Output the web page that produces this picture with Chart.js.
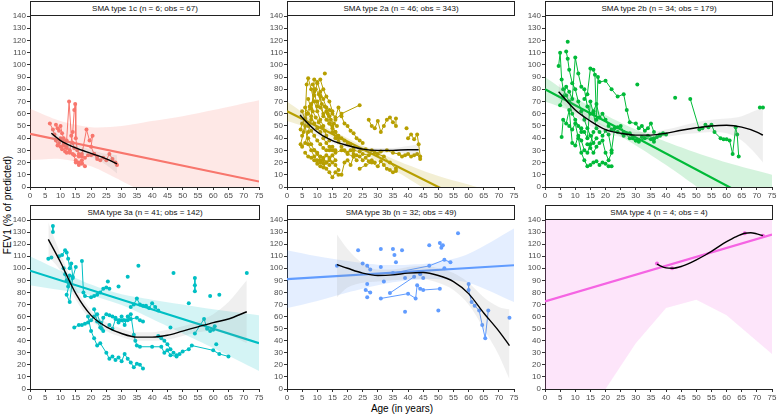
<!DOCTYPE html>
<html>
<head>
<meta charset="utf-8">
<script src="https://cdn.jsdelivr.net/npm/chart.js@4.4.0/dist/chart.umd.min.js"></script>
<style>
  body { margin: 0; background: #fff; width: 778px; height: 414px; position: relative; overflow: hidden;
         font-family: "Liberation Sans", Arial, Helvetica, sans-serif; }
  canvas { position: absolute; }
  .strip { position: absolute; box-sizing: border-box; border: 1px solid #222; background: #fff;
           font-size: 8px; line-height: 13px; text-align: center; color: #111; }
  .axtitle { position: absolute; font-size: 10px; color: #000; white-space: nowrap; }
</style>
</head>
<body>
<div class="axtitle" style="left:402px; top:408px; transform:translate(-50%,-50%);">Age (in years)</div>
<div class="axtitle" style="left:7px; top:205px; transform:translate(-50%,-50%) rotate(-90deg);">FEV1 (% of predicted)</div>
<script>
// ---- data ----
const xMax = 75, xStep = 5;
const yMax = 140, yStep = 10;

// SMA type 1c
const t1c_patients = [
  [[6.5,52],[7.5,47],[8,43],[8.5,38],[9,34],[9.5,36],[10,33],[10.5,31],[11,35],[11.5,29],[12,28]],
  [[8.5,51],[9,48],[9.5,46],[10,50],[10.5,44],[11,40],[11.5,36],[12,38],[12.8,70],[13.5,42],[14,36],[14.5,32]],
  [[10,40],[11,34],[12,33],[13,30],[14,45],[14.5,63],[14.8,68],[15,40],[15.5,30],[16,27],[17,25]],
  [[12,32],[13,29],[14,27],[15,22],[16,20],[17,22],[18,17],[17,19],[16,18],[15,20]],
  [[13,28],[14.5,26],[16,25],[17,27],[18.5,47],[19.5,38],[20.5,42],[20,33],[21,27],[22,25]],
  [[18,24],[19,26],[20,26],[21,27],[22,23],[23,22],[24,24],[25,22],[26,27],[27,23],[28,20],[28.5,18]]
];
const t1c_fit = [[0,43.5],[75,4.5]];
const t1c_fitHi = [[0,64],[10,54],[20,49],[30,50],[40,54],[50,58],[60,63],[75,71]];
const t1c_fitLo = [[0,22],[10,23],[20,17],[30,5],[40,-8],[50,-23],[60,-38],[75,-62]];
const t1c_curve = [[7,44],[10,38],[15,32],[20,27.5],[25,23],[28.5,19]];
const t1c_curveHi = [[7,49],[10,41],[15,35],[20,30.5],[25,27],[28.5,26]];
const t1c_curveLo = [[7,39],[10,35],[15,29],[20,24.5],[25,18],[28.5,11]];

// SMA type 2a
const t2a_patients = [
  [[4.5,47],[5,52],[6,56],[6.5,84],[7,89],[8,80],[9,70],[10,62],[11,55],[12,50],[13,42],[14,38]],
  [[5,33],[6,36],[7,45],[8,55],[9,88],[10,86],[11,78],[12,72],[13,65],[14,58],[15,50],[16,45],[17,40]],
  [[6,65],[7,60],[8,68],[9,75],[10,85],[11,88],[12,80],[13,74],[14,70],[15,62],[16,55],[18,60],[24,67]],
  [[7,40],[8,35],[9,30],[10,28],[11,25],[12,22],[13,26],[14,24],[15,20],[16,18],[17,14]],
  [[8,58],[9,52],[10,48],[11,45],[12,40],[13,36],[14,33],[15,30],[16,28],[18,30],[20,27],[22,25]],
  [[9,30],[10,27],[11,22],[12,19],[13,15],[14,12],[15,8],[16,12],[17,10]],
  [[5,62],[6,55],[7,50],[8,46],[9,42],[10,38],[11,35],[12,32],[13,30],[14,30],[15,33],[16,30]],
  [[10,70],[11,65],[12,60],[13,55],[14,52],[15,48],[16,45],[17,42],[18,40],[19,38],[20,36],[21,35],[22,32]],
  [[12.5,93]],
  [[14,63],[15,60],[16,57],[17,65],[18,58],[19,52],[20,50],[21,46],[22,44],[23,40],[24,38],[25,36]],
  [[15,45],[16,40],[17,37],[18,33],[19,30],[20,28],[21,30],[22,27],[23,26],[24,25],[25,22],[26,24],[27,21],[28,22],[29,20]],
  [[24,15],[26,18],[28,20],[30,17],[31,21],[32,18],[33,15],[34,14],[35,12],[36,13]],
  [[27,55],[28,50],[29,48],[30,54],[31,45],[32,50],[33,55],[34,57],[35,53],[36,50],[36,56]],
  [[22,30],[24,29],[26,31],[28,30],[30,27],[32,25],[34,20],[36,15]],
  [[25,27],[27,26],[29,28],[31,29],[33,30],[35,28],[37,27],[38,25],[39,26],[40,27],[41,25],[42,26],[43,27],[44,23]],
  [[39.5,48]],
  [[40,40],[41,43],[42,39],[43,43],[43.5,35],[44,25]],
  [[18,10],[19,20],[20,22],[21,18],[22,25],[23,22]],
  [[7,72],[8,64],[9,78],[10,66],[11,74],[12,58],[13,62],[14,52]],
  [[5,42],[6,50],[7,35],[8,30],[9,25],[10,22],[11,20],[12,24],[13,20],[14,18]],
  [[4.5,35],[5.5,45],[6.5,60],[7.5,66],[8.5,62],[9.5,57],[10.5,53],[11.5,49],[12.5,46]],
  [[6,28],[7,25],[8,24],[9,22],[10,19],[11,17],[12,16],[13,20],[14,22],[15,26],[16,22]],
  [[8.5,84],[9.5,80],[10.5,76],[11.5,68],[12.5,66],[13.5,60],[14.5,55],[15.5,52],[16.5,50]]
];
const t2a_fit = [[0,62],[75,-31]];
const t2a_fitHi = [[0,70],[10,53],[20,40],[30,28.5],[40,18],[50,9],[60,2],[75,-9]];
const t2a_fitLo = [[0,54],[10,46],[20,34.5],[30,21],[40,7],[50,-9],[60,-26],[75,-51]];
const t2a_curve = [[4.3,59],[5,57],[10,45],[15,38],[20,34],[25,31],[30,30],[35,30],[40,30.5],[43.5,30.5]];
const t2a_curveHi = [[4.3,65],[5,62],[10,48],[15,40],[20,36],[25,33],[30,32],[35,32],[40,33.5],[43.5,35]];
const t2a_curveLo = [[4.3,53],[5,52],[10,42],[15,36],[20,32],[25,29],[30,28],[35,28],[40,27.5],[43.5,26]];

// SMA type 2b
const t2b_patients = [
  [[4.5,99],[5,110],[5.5,88],[6,80],[7,75],[8,70],[9,60],[10,55],[11,50],[12,45]],
  [[7,111],[7.5,105],[8,96],[9,85],[10,80],[11,70],[12,62],[13,55],[14,48],[15,42],[16,36],[17,40]],
  [[7.5,119]],
  [[5,67],[6,74],[7,82],[8,78],[9,72],[10,106],[11,93],[12,82],[13,80],[14,66],[15,60]],
  [[5.5,41],[6,55],[7,52],[8,63],[9,36],[10,34],[11,42],[12,38],[13,30],[14,28],[15,35],[16,45]],
  [[8,50],[9,47],[10,52],[11,40],[12,28],[13,22],[14,17],[15,18],[16,20],[17,21],[18,18],[19,20],[20,19],[21,17],[22,17]],
  [[13,72],[14,76],[15,97],[16,96],[16.5,92],[17,55],[17.5,90],[18,86],[20,87],[22,80],[24,74],[26,76],[27,63],[28,53],[30,52],[31,48],[32,50],[33,46],[34,48],[35,52],[36,45]],
  [[12,48],[13,45],[14,40],[15,70],[16,60],[17,48],[18,45],[19,42],[20,46],[21,43],[22,30],[23,48],[24,49],[25,50],[26,45],[28,40],[30,38],[32,41],[34,42],[36,40],[38,42],[40,43]],
  [[14,35],[15,32],[16,28],[17,33],[18,36],[19,38],[20,28],[21,22],[22,28]],
  [[30.5,84]],
  [[28,44],[29,40],[30,38],[31,37],[33,40],[35,39],[36,37],[37,41],[38,43],[39,44]],
  [[43,73]],
  [[48,72],[51,47],[52,48],[53,51],[54,49],[55,51],[56,45],[58,40],[59,39],[60,39],[61,38],[62,27],[63,49],[63.5,43],[64,25]],
  [[71,65],[72,65]],
  [[16,62],[17,68],[18,57],[19,60],[20,55],[21,50],[22,47],[24,45],[26,42],[27,44]]
];
const t2b_fit = [[0,80],[75,-18.6]];
const t2b_fitHi = [[0,90],[10,73],[20,59],[30,47],[40,37],[50,28],[60,20],[75,10]];
const t2b_fitLo = [[0,70],[10,61],[20,48.5],[30,34],[40,18],[50,0.5],[60,-18],[75,-47]];
const t2b_curve = [[4.5,78],[10,63],[15,54],[20,47],[25,44],[30,42.5],[35,42.5],[40,44],[45,46.5],[50,48.5],[55,50],[60,50.5],[65,49],[70,45],[72,42.5]];
const t2b_curveHi = [[4.5,85],[10,68],[15,58],[20,50],[25,47],[30,45],[35,45],[40,47],[45,50],[50,53],[55,55],[60,56],[65,58],[70,63],[72,65]];
const t2b_curveLo = [[4.5,72],[10,58],[15,50],[20,44],[25,41],[30,40],[35,40],[40,41],[45,43],[50,44],[55,45],[60,44],[65,38],[70,26],[72,20]];

// SMA type 3a
const t3a_patients = [
  [[7.5,135],[7.5,130]],
  [[6,108],[7,109]],
  [[9.5,110],[10.5,111],[11.5,115],[12,113],[12.5,108],[13,100],[13.5,104],[14,93],[13,88],[12,78],[13,72],[14,92],[15,101]],
  [[11,100],[11.5,95],[12,90],[12.5,85],[13,94]],
  [[17,106],[17.5,80],[18,77],[20,76],[21,77],[22,78],[23,80],[24,83],[25,84],[26,83]],
  [[25.5,89]], [[29,85]], [[32,93]], [[35.5,102]], [[47,96]], [[52,71]], [[71,96]], [[59,77]], [[62,78]], [[61,37]], [[46,51]],
  [[54,92],[54,86],[54,81]],
  [[33,68],[34,70],[35,75],[36,70],[37,69],[38,69],[39,67],[40,71],[41,68],[42,65]],
  [[14.5,51],[16,53],[17,53],[18,54],[19,55],[20,57],[21,60],[22,62],[23,55],[23.5,50],[24,59],[25,62],[26,61],[27,60],[28,59],[29,57],[30,60],[31,57],[32,57],[33,62],[34,45],[34.5,40],[35,36],[36,35],[40,35],[43,35],[44,30],[45,32],[46,28],[48,27],[50,31],[52,33],[53,36],[60,32],[62,29],[65,27]],
  [[19,60],[20,48],[21,42],[22,36],[23,38],[25,30],[26,25],[27,27],[28,24],[29,26],[30,23],[31,29],[32,25],[33,22],[34,18],[35,21],[36,20],[37,17]],
  [[26,53],[27,50],[28,58],[29,55],[30,57],[31,53],[32,60],[33,58],[35,59],[36,57],[37,56]],
  [[42,44],[43,42],[44,40],[45,37],[46,33],[47,30],[48,28],[49,29]],
  [[54,46],[57,58],[58,50],[59,48],[60,49],[60.5,52]],
  [[21,66],[22,56],[23,51],[24,48]]
];
const t3a_fit = [[0,98],[75,38]];
const t3a_fitHi = [[0,110],[10,98],[20,86.5],[30,78.5],[40,74],[50,70],[60,66],[75,61]];
const t3a_fitLo = [[0,86],[10,82],[20,77.5],[30,69.5],[40,58],[50,46],[60,34],[75,15]];
const t3a_curve = [[6,124],[10,105],[15,79],[20,61],[25,51.5],[30,46],[35,43],[40,43],[45,44.5],[50,48],[55,51.5],[60,55],[65,58],[71,64]];
const t3a_curveHi = [[6,138],[10,112],[15,84],[20,65],[25,55],[30,50],[35,47],[40,47],[45,49],[50,52],[55,56],[60,62],[65,72],[71,90]];
const t3a_curveLo = [[6,110],[10,98],[15,74],[20,57],[25,48],[30,43],[35,40],[40,40],[45,41],[50,44],[55,47],[60,48],[65,45],[71,38]];

// SMA type 3b
const t3b_patients = [
  [[16.5,102]], [[23.5,115]], [[25,104]], [[26.5,102],[27.5,99]], [[26.5,87]], [[26,82],[27.5,80]], [[26.5,76]],
  [[31,116]], [[31,101]], [[32,89]], [[35,116]], [[35.5,111]], [[36,105]], [[38,115]], [[39,92]], [[39,64]],
  [[47,119]], [[50,65]], [[56.5,129]], [[73.5,59]], [[45,92]], [[44,95]],
  [[31,75],[40,79],[42.5,75],[43,86],[44,83],[45,82],[50.5,83]],
  [[34,79.5],[42,93]],
  [[35,96],[47,102],[52,107],[54,105]],
  [[52,100]],
  [[50.5,121],[51,117],[51.5,119]],
  [[60,87],[60,82],[61,72],[62,69],[63.5,65],[64.5,53],[65.5,42],[66.5,65]]
];
const t3b_fit = [[0,91],[75,102.5]];
const t3b_fitHi = [[0,115],[10,110],[20,106],[30,103],[40,103],[50,105],[60,112],[75,133]];
const t3b_fitLo = [[0,67],[10,73],[20,80],[30,86],[40,90],[50,91],[60,88],[75,72]];
const t3b_curve = [[16.5,103],[20,100],[25,96],[30,94],[35,94.5],[40,96],[45,96.5],[50,94],[55,89],[60,79],[65,63],[70,48],[73.5,36]];
const t3b_curveHi = [[16.5,128],[20,116],[25,104],[30,99],[35,99],[40,101],[45,102],[50,100],[55,96],[60,88],[65,76],[70,68],[73.5,66]];
const t3b_curveLo = [[16.5,76],[20,84],[25,88],[30,89],[35,90],[40,91],[45,91],[50,88],[55,82],[60,70],[65,50],[70,28],[73.5,8]];

// SMA type 4
const t4_patients = [[[37,104]], [[42,100]], [[66,129]], [[72,127]]];
const t4_fit = [[0,72.5],[75,128]];
const t4_fitHi = [[0,220],[20,220],[30,220],[40,220],[50,220],[60,220],[75,220]];
const t4_fitLo = [[0,-60],[20,0],[30,38],[40,67],[50,74],[60,61],[75,29]];
const t4_curve = [[37,103.5],[38.5,101.5],[40,100.3],[42,100],[45,101.5],[48,104.5],[50,107],[53,111],[55,114],[58,119],[60,122],[63,126],[66,129],[68,129.5],[70,128.5],[72,127]];

// ---- layout ----
const cols = [{ L: 30, R: 259 }, { L: 287, R: 514 }, { L: 545, R: 772 }];
const rows = [{ T: 16, B: 187 }, { T: 220, B: 389 }];
const FONT = '"Liberation Sans", Arial, Helvetica, sans-serif';

const panels = [
  { title: 'SMA type 1c (n = 6; obs = 67)', col: 0, row: 0, color: '#F8766D', patients: t1c_patients,
    fit: t1c_fit, fitHi: t1c_fitHi, fitLo: t1c_fitLo, curve: t1c_curve, curveHi: t1c_curveHi, curveLo: t1c_curveLo },
  { title: 'SMA type 2a (n = 46; obs = 343)', col: 1, row: 0, color: '#B79F00', patients: t2a_patients,
    fit: t2a_fit, fitHi: t2a_fitHi, fitLo: t2a_fitLo, curve: t2a_curve, curveHi: t2a_curveHi, curveLo: t2a_curveLo },
  { title: 'SMA type 2b (n = 34; obs = 179)', col: 2, row: 0, color: '#00BA38', patients: t2b_patients,
    fit: t2b_fit, fitHi: t2b_fitHi, fitLo: t2b_fitLo, curve: t2b_curve, curveHi: t2b_curveHi, curveLo: t2b_curveLo },
  { title: 'SMA type 3a (n = 41; obs = 142)', col: 0, row: 1, color: '#00BFC4', patients: t3a_patients,
    fit: t3a_fit, fitHi: t3a_fitHi, fitLo: t3a_fitLo, curve: t3a_curve, curveHi: t3a_curveHi, curveLo: t3a_curveLo },
  { title: 'SMA type 3b (n = 32; obs = 49)', col: 1, row: 1, color: '#619CFF', patients: t3b_patients,
    fit: t3b_fit, fitHi: t3b_fitHi, fitLo: t3b_fitLo, curve: t3b_curve, curveHi: t3b_curveHi, curveLo: t3b_curveLo },
  { title: 'SMA type 4 (n = 4; obs = 4)', col: 2, row: 1, color: '#F564E3', patients: t4_patients,
    fit: t4_fit, fitHi: t4_fitHi, fitLo: t4_fitLo, curve: t4_curve, straightBand: true }
];

function toXY(arr) {
  return arr.map(p => ({ x: p[0], y: p[1] }));
}

function rgba(hex, a) {
  const n = parseInt(hex.slice(1), 16);
  return 'rgba(' + (n >> 16) + ',' + ((n >> 8) & 255) + ',' + (n & 255) + ',' + a + ')';
}

function makePanel(p) {
  const { L, R } = cols[p.col];
  const { T, B } = rows[p.row];
  const padTop = 8, padRight = 10, yW = 30, xH = 18;

  const canvas = document.createElement('canvas');
  canvas.width = (R - L) + yW + padRight;
  canvas.height = (B - T) + padTop + xH;
  canvas.style.left = (L - yW) + 'px';
  canvas.style.top = (T - padTop) + 'px';
  document.body.appendChild(canvas);

  const strip = document.createElement('div');
  strip.className = 'strip';
  strip.style.left = L + 'px';
  strip.style.top = (T - 15) + 'px';
  strip.style.width = (R - L + 1) + 'px';
  strip.style.height = '15px';
  strip.textContent = p.title;
  document.body.appendChild(strip);

  const datasets = [];
  // patient trajectories
  p.patients.forEach(pts => {
    datasets.push({
      data: toXY(pts), showLine: pts.length > 1, borderColor: p.color, backgroundColor: p.color,
      borderWidth: 1, pointRadius: 2, pointBorderWidth: 0, pointHoverRadius: 0, order: 5
    });
  });
  // linear fit band
  const tens = p.straightBand ? 0 : 0.3;
  datasets.push({ data: toXY(p.fitHi), showLine: true, borderWidth: 0, borderColor: 'rgba(0,0,0,0)',
                  pointRadius: 0, fill: false, tension: tens, order: 4 });
  datasets.push({ data: toXY(p.fitLo), showLine: true, borderWidth: 0, borderColor: 'rgba(0,0,0,0)',
                  pointRadius: 0, fill: '-1', backgroundColor: rgba(p.color, 0.17), tension: tens, order: 4 });
  // linear fit line
  datasets.push({ data: toXY(p.fit), showLine: true, borderColor: p.color, borderWidth: 2.2, pointRadius: 0, order: 3 });
  // smooth curve band
  if (p.curveHi) {
    datasets.push({ data: toXY(p.curveHi), showLine: true, borderWidth: 0, borderColor: 'rgba(0,0,0,0)',
                    pointRadius: 0, fill: false, cubicInterpolationMode: 'monotone', order: 2 });
    datasets.push({ data: toXY(p.curveLo), showLine: true, borderWidth: 0, borderColor: 'rgba(0,0,0,0)',
                    pointRadius: 0, fill: '-1', backgroundColor: 'rgba(140,140,140,0.14)',
                    cubicInterpolationMode: 'monotone', order: 2 });
  }
  // smooth curve
  datasets.push({ data: toXY(p.curve), showLine: true, borderColor: '#000', borderWidth: 1.4, pointRadius: 0,
                  cubicInterpolationMode: 'monotone', order: 1 });

  const tickFont = { size: 8, family: FONT };
  new Chart(canvas, {
    type: 'scatter',
    data: { datasets: datasets },
    options: {
      responsive: false,
      animation: false,
      events: [],
      layout: { padding: { top: padTop, right: padRight, left: 0, bottom: 0 } },
      plugins: { legend: { display: false }, tooltip: { enabled: false } },
      scales: {
        x: {
          type: 'linear', min: 0, max: xMax,
          ticks: { stepSize: xStep, autoSkip: false, maxRotation: 0, color: '#4d4d4d', font: tickFont, padding: 1 },
          grid: { drawOnChartArea: false, tickLength: 3, tickColor: '#333' },
          border: { color: '#222', width: 1 },
          afterFit: s => { s.height = xH; s.paddingLeft = 0; s.paddingRight = 0; }
        },
        y: {
          type: 'linear', min: 0, max: yMax,
          ticks: { stepSize: yStep, autoSkip: false, color: '#4d4d4d', font: tickFont, padding: 1 },
          grid: { drawOnChartArea: false, tickLength: 3, tickColor: '#333' },
          border: { color: '#222', width: 1 },
          afterFit: s => { s.width = yW; s.paddingTop = 0; s.paddingBottom = 0; }
        }
      }
    }
  });
}

panels.forEach(makePanel);
</script>
</body>
</html>
